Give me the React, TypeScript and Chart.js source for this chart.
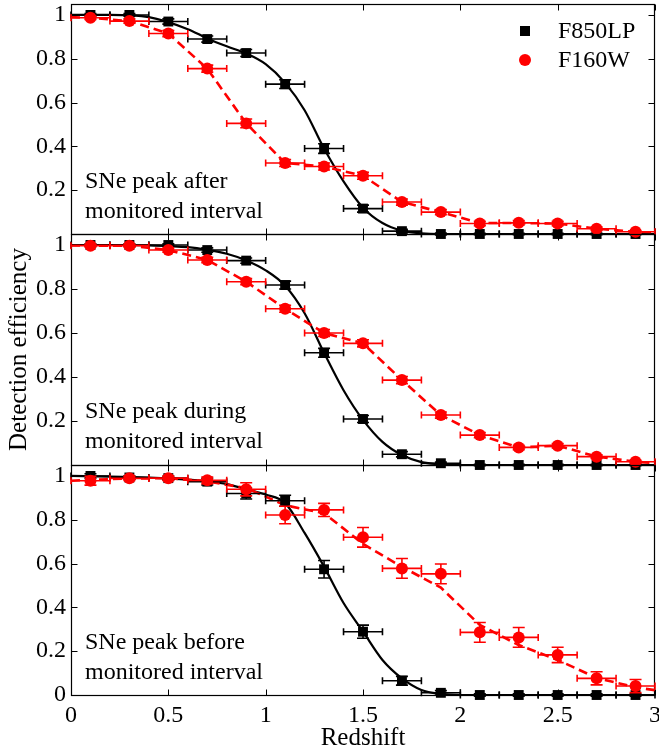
import React, { useEffect, useRef } from 'react';
import { Chart, registerables } from 'chart.js';

Chart.register(...registerables);

const FONT = "'Liberation Serif', 'Times New Roman', serif";
const RED = '#ff0000';
const BLACK = '#000000';

// ---- shared axes / bins ----
const zBins = [0.1, 0.3, 0.5, 0.7, 0.9, 1.1, 1.3, 1.5, 1.7, 1.9, 2.1, 2.3, 2.5, 2.7, 2.9];
const zHalfBin = 0.1;
const fitZ = [0, 0.2, 0.4, 0.6, 0.7, 0.8, 0.9, 1.0, 1.1, 1.2, 1.3, 1.4, 1.5, 1.6, 1.7, 1.8, 1.9, 2.0, 2.5, 3.0];
const dashZ = [0, 0.1, 0.3, 0.5, 0.7, 0.9, 1.1, 1.3, 1.5, 1.7, 1.9, 2.1, 2.3, 2.5, 2.7, 2.9, 3.0];
const xTickValues = [0, 0.5, 1, 1.5, 2, 2.5, 3];
const yTicksUpper = [0.2, 0.4, 0.6, 0.8, 1];
const yTicksLower = [0, 0.2, 0.4, 0.6, 0.8, 1];
const seriesNames = ['F850LP', 'F160W'];
const xTitle = 'Redshift';
const yTitle = 'Detection efficiency';

// ---- panel 1: SNe peak after monitored interval ----
const afterLabel = ['SNe peak after', 'monitored interval'];
const afterF850 = [1.0, 1.0, 0.97, 0.89, 0.826, 0.684, 0.39, 0.116, 0.013, 0.0, 0.0, 0.0, 0.0, 0.0, 0.0];
const afterF850Err = [0.006, 0.006, 0.012, 0.014, 0.016, 0.02, 0.022, 0.016, 0.008, 0.004, 0.003, 0.003, 0.003, 0.003, 0.003];
const afterF160 = [0.987, 0.972, 0.915, 0.755, 0.505, 0.324, 0.308, 0.266, 0.146, 0.1, 0.048, 0.051, 0.048, 0.024, 0.01];
const afterF160Err = [0.008, 0.01, 0.014, 0.016, 0.02, 0.016, 0.016, 0.016, 0.014, 0.012, 0.01, 0.01, 0.01, 0.008, 0.006];
const afterF850Fit = [1.0, 1.0, 0.99, 0.935, 0.893, 0.857, 0.824, 0.775, 0.69, 0.565, 0.39, 0.24, 0.12, 0.05, 0.015, 0.003, 0.0, 0.0, 0.0, 0.0];
const afterF160Fit = [0.99, 0.987, 0.972, 0.915, 0.755, 0.505, 0.324, 0.308, 0.266, 0.146, 0.1, 0.05, 0.05, 0.048, 0.024, 0.01, 0.005];

// ---- panel 2: SNe peak during monitored interval ----
const duringLabel = ['SNe peak during', 'monitored interval'];
const duringF850 = [1.0, 1.0, 1.0, 0.977, 0.929, 0.818, 0.51, 0.209, 0.049, 0.008, 0.0, 0.0, 0.0, 0.0, 0.0];
const duringF850Err = [0.005, 0.005, 0.006, 0.01, 0.012, 0.018, 0.02, 0.016, 0.012, 0.005, 0.003, 0.003, 0.003, 0.003, 0.003];
const duringF160 = [0.997, 0.997, 0.977, 0.932, 0.833, 0.71, 0.6, 0.553, 0.386, 0.227, 0.136, 0.08, 0.088, 0.038, 0.015];
const duringF160Err = [0.006, 0.006, 0.01, 0.012, 0.014, 0.016, 0.016, 0.016, 0.016, 0.014, 0.012, 0.01, 0.01, 0.008, 0.006];
const duringF850Fit = [1.0, 1.0, 0.998, 0.99, 0.978, 0.96, 0.93, 0.885, 0.815, 0.69, 0.51, 0.34, 0.205, 0.105, 0.045, 0.013, 0.003, 0.0, 0.0, 0.0];
const duringF160Fit = [0.998, 0.997, 0.997, 0.977, 0.932, 0.833, 0.71, 0.6, 0.553, 0.386, 0.227, 0.136, 0.08, 0.088, 0.038, 0.015, 0.008];

// ---- panel 3: SNe peak before monitored interval ----
const beforeLabel = ['SNe peak before', 'monitored interval'];
const beforeF850 = [1.0, 0.993, 0.99, 0.974, 0.92, 0.887, 0.574, 0.289, 0.065, 0.01, 0.0, 0.0, 0.0, 0.0, 0.0];
const beforeF850Err = [0.01, 0.008, 0.008, 0.015, 0.025, 0.025, 0.04, 0.03, 0.02, 0.01, 0.005, 0.005, 0.005, 0.005, 0.005];
const beforeF160 = [0.978, 0.989, 0.99, 0.98, 0.939, 0.822, 0.845, 0.72, 0.578, 0.553, 0.286, 0.263, 0.183, 0.076, 0.041];
const beforeF160Err = [0.02, 0.01, 0.01, 0.015, 0.03, 0.04, 0.03, 0.045, 0.045, 0.045, 0.045, 0.045, 0.035, 0.03, 0.03];
const beforeF850Fit = [1.0, 0.997, 0.992, 0.983, 0.975, 0.963, 0.94, 0.915, 0.876, 0.74, 0.586, 0.42, 0.29, 0.16, 0.076, 0.023, 0.005, 0.0, 0.0, 0.0];
const beforeF160Fit = [0.978, 0.983, 0.988, 0.99, 0.975, 0.945, 0.866, 0.83, 0.69, 0.585, 0.49, 0.32, 0.228, 0.16, 0.078, 0.035, 0.022];

type PanelData = {
  label: string[];
  f850: number[];
  f850Err: number[];
  f160: number[];
  f160Err: number[];
  f850Fit: number[];
  f160Fit: number[];
};

const panels: PanelData[] = [
  { label: afterLabel, f850: afterF850, f850Err: afterF850Err, f160: afterF160, f160Err: afterF160Err, f850Fit: afterF850Fit, f160Fit: afterF160Fit },
  { label: duringLabel, f850: duringF850, f850Err: duringF850Err, f160: duringF160, f160Err: duringF160Err, f850Fit: duringF850Fit, f160Fit: duringF160Fit },
  { label: beforeLabel, f850: beforeF850, f850Err: beforeF850Err, f160: beforeF160, f160Err: beforeF160Err, f850Fit: beforeF850Fit, f160Fit: beforeF160Fit },
];

// ---- plugins ----
const frameTicksPlugin = {
  id: 'frameTicks',
  beforeDatasetsDraw(chart: any) {
    const { ctx, chartArea, scales } = chart;
    const L = Math.round(chartArea.left) + 0.5;
    const R = Math.round(chartArea.right) - 0.5;
    const T = Math.round(chartArea.top) + 0.5;
    const B = Math.round(chartArea.bottom) + 0.5;
    const x = scales.x;
    const y = scales.y;
    ctx.save();
    ctx.strokeStyle = BLACK;
    ctx.lineWidth = 1.2;
    ctx.strokeRect(L, T, R - L, B - T);
    ctx.lineWidth = 1;
    ctx.beginPath();
    const tl = 6;
    for (const v of xTickValues) {
      const px = Math.round(x.getPixelForValue(v)) + 0.5;
      ctx.moveTo(px, B);
      ctx.lineTo(px, B - tl);
      ctx.moveTo(px, T);
      ctx.lineTo(px, T + tl);
    }
    for (const t of y.ticks) {
      const py = Math.round(y.getPixelForValue(t.value)) + 0.5;
      ctx.moveTo(L, py);
      ctx.lineTo(L + tl, py);
      ctx.moveTo(R, py);
      ctx.lineTo(R - tl, py);
    }
    ctx.stroke();
    ctx.restore();
  },
};

const errorBarPlugin = {
  id: 'errorBars',
  beforeDatasetDraw(chart: any, args: any) {
    const ds = chart.data.datasets[args.index];
    if (!ds.errY) return;
    const { ctx, scales } = chart;
    const x = scales.x;
    const y = scales.y;
    ctx.save();
    ctx.strokeStyle = ds.borderColor;
    ctx.lineWidth = 1.6;
    ds.data.forEach((p: any, i: number) => {
      const px = x.getPixelForValue(p.x);
      const py = y.getPixelForValue(p.y);
      const xl = x.getPixelForValue(p.x - ds.errX);
      const xr = x.getPixelForValue(p.x + ds.errX);
      const yt = y.getPixelForValue(p.y + ds.errY[i]);
      const yb = y.getPixelForValue(p.y - ds.errY[i]);
      ctx.beginPath();
      ctx.moveTo(xl, py);
      ctx.lineTo(xr, py);
      ctx.moveTo(xl, py - 3.5);
      ctx.lineTo(xl, py + 3.5);
      ctx.moveTo(xr, py - 3.5);
      ctx.lineTo(xr, py + 3.5);
      ctx.moveTo(px, yt);
      ctx.lineTo(px, yb);
      ctx.moveTo(px - 6, yt);
      ctx.lineTo(px + 6, yt);
      ctx.moveTo(px - 6, yb);
      ctx.lineTo(px + 6, yb);
      ctx.stroke();
    });
    ctx.restore();
  },
};

function makeLabelPlugin(lines: string[]) {
  return {
    id: 'panelLabel',
    afterDraw(chart: any) {
      const { ctx, chartArea } = chart;
      ctx.save();
      ctx.fillStyle = BLACK;
      ctx.font = `24px ${FONT}`;
      ctx.textAlign = 'left';
      ctx.textBaseline = 'alphabetic';
      ctx.fillText(lines[0], chartArea.left + 14, chartArea.top + 184);
      ctx.fillText(lines[1], chartArea.left + 14, chartArea.top + 214);
      ctx.restore();
    },
  };
}

const legendPlugin = {
  id: 'insideLegend',
  afterDraw(chart: any) {
    const { ctx, chartArea } = chart;
    const mx = chartArea.right - 130;
    const tx = chartArea.right - 97;
    const y1 = chartArea.top + 27;
    const y2 = chartArea.top + 56;
    ctx.save();
    ctx.fillStyle = BLACK;
    ctx.fillRect(mx - 5, y1 - 5, 10, 10);
    ctx.fillStyle = RED;
    ctx.beginPath();
    ctx.arc(mx, y2, 6, 0, Math.PI * 2);
    ctx.fill();
    ctx.fillStyle = BLACK;
    ctx.font = `24px ${FONT}`;
    ctx.textAlign = 'left';
    ctx.textBaseline = 'middle';
    ctx.fillText(seriesNames[0], tx, y1 + 1);
    ctx.fillText(seriesNames[1], tx, y2 + 1);
    ctx.restore();
  },
};

type PanelProps = {
  panel: PanelData;
  top: number;
  height: number;
  padTop: number;
  padBottom: number;
  bottomAxis: boolean;
  showYTitle: boolean;
  showLegend: boolean;
};

function Panel({ panel, top, height, padTop, padBottom, bottomAxis, showYTitle, showLegend }: PanelProps) {
  const ref = useRef<HTMLCanvasElement | null>(null);
  useEffect(() => {
    if (!ref.current) return;
    const yTicks = bottomAxis ? yTicksLower : yTicksUpper;
    const plugins: any[] = [frameTicksPlugin, errorBarPlugin, makeLabelPlugin(panel.label)];
    if (showLegend) plugins.push(legendPlugin);
    const chart = new Chart(ref.current, {
      type: 'scatter',
      data: {
        datasets: [
          {
            label: seriesNames[1],
            data: zBins.map((z, i) => ({ x: z, y: panel.f160[i] })),
            errY: panel.f160Err,
            errX: zHalfBin,
            pointStyle: 'circle',
            pointRadius: 6,
            backgroundColor: RED,
            borderColor: RED,
            pointBorderWidth: 0,
            showLine: false,
            order: 1,
            clip: false,
          } as any,
          {
            label: seriesNames[0],
            data: zBins.map((z, i) => ({ x: z, y: panel.f850[i] })),
            errY: panel.f850Err,
            errX: zHalfBin,
            pointStyle: 'rect',
            pointRadius: 7,
            backgroundColor: BLACK,
            borderColor: BLACK,
            pointBorderWidth: 0,
            showLine: false,
            order: 2,
            clip: false,
          } as any,
          {
            label: seriesNames[1] + ' fit',
            data: dashZ.map((z, i) => ({ x: z, y: panel.f160Fit[i] })),
            showLine: true,
            borderColor: RED,
            borderWidth: 2.6,
            borderDash: [9, 5],
            pointRadius: 0,
            tension: 0,
            order: 3,
          },
          {
            label: seriesNames[0] + ' fit',
            data: fitZ.map((z, i) => ({ x: z, y: panel.f850Fit[i] })),
            showLine: true,
            borderColor: BLACK,
            borderWidth: 2.2,
            pointRadius: 0,
            cubicInterpolationMode: 'monotone',
            order: 4,
          },
        ],
      },
      options: {
        animation: false,
        responsive: false,
        devicePixelRatio: 1,
        events: [],
        layout: { autoPadding: false, padding: { left: 0, right: 4, top: padTop, bottom: padBottom } },
        plugins: { legend: { display: false }, tooltip: { enabled: false } },
        scales: {
          x: {
            type: 'linear',
            min: 0,
            max: 3,
            display: bottomAxis,
            grid: { display: false, drawTicks: false },
            border: { display: false },
            afterBuildTicks: (s: any) => {
              s.ticks = xTickValues.map((v) => ({ value: v }));
            },
            ticks: {
              font: { family: FONT, size: 24 },
              color: BLACK,
              padding: 6,
              maxRotation: 0,
              autoSkip: false,
              callback: (v: any) => String(v),
            },
            title: {
              display: bottomAxis,
              text: xTitle,
              font: { family: FONT, size: 25, lineHeight: 1.0 },
              color: BLACK,
              padding: { top: 0, bottom: 0 },
            },
            afterFit: (s: any) => {
              s.height = bottomAxis ? 56 : 0;
              s.paddingLeft = 0;
              s.paddingRight = 0;
            },
          },
          y: {
            type: 'linear',
            min: 0,
            max: 1.05,
            grid: { display: false, drawTicks: false },
            border: { display: false },
            afterBuildTicks: (s: any) => {
              s.ticks = yTicks.map((v) => ({ value: v }));
            },
            ticks: {
              font: { family: FONT, size: 24 },
              color: BLACK,
              padding: 5,
              callback: (v: any) => String(v),
            },
            title: {
              display: showYTitle,
              text: yTitle,
              font: { family: FONT, size: 25, lineHeight: 1.2 },
              color: BLACK,
              padding: { top: 4, bottom: 0 },
            },
            afterFit: (s: any) => {
              s.width = 71;
              s.paddingTop = 0;
              s.paddingBottom = 0;
            },
          },
        },
      } as any,
      plugins,
    });
    return () => chart.destroy();
  }, []);
  return (
    <canvas
      ref={ref}
      width={659}
      height={height}
      style={{ position: 'absolute', left: 0, top, width: 659, height, display: 'block' }}
    />
  );
}

export default function App() {
  return (
    <div style={{ position: 'absolute', left: 0, top: 0, width: 659, height: 751, background: '#ffffff', overflow: 'hidden' }}>
      <Panel panel={panels[0]} top={0} height={240} padTop={4} padBottom={6} bottomAxis={false} showYTitle={false} showLegend={true} />
      <Panel panel={panels[1]} top={228} height={243} padTop={6} padBottom={6} bottomAxis={false} showYTitle={true} showLegend={false} />
      <Panel panel={panels[2]} top={459} height={292} padTop={6} padBottom={0} bottomAxis={true} showYTitle={false} showLegend={false} />
    </div>
  );
}
